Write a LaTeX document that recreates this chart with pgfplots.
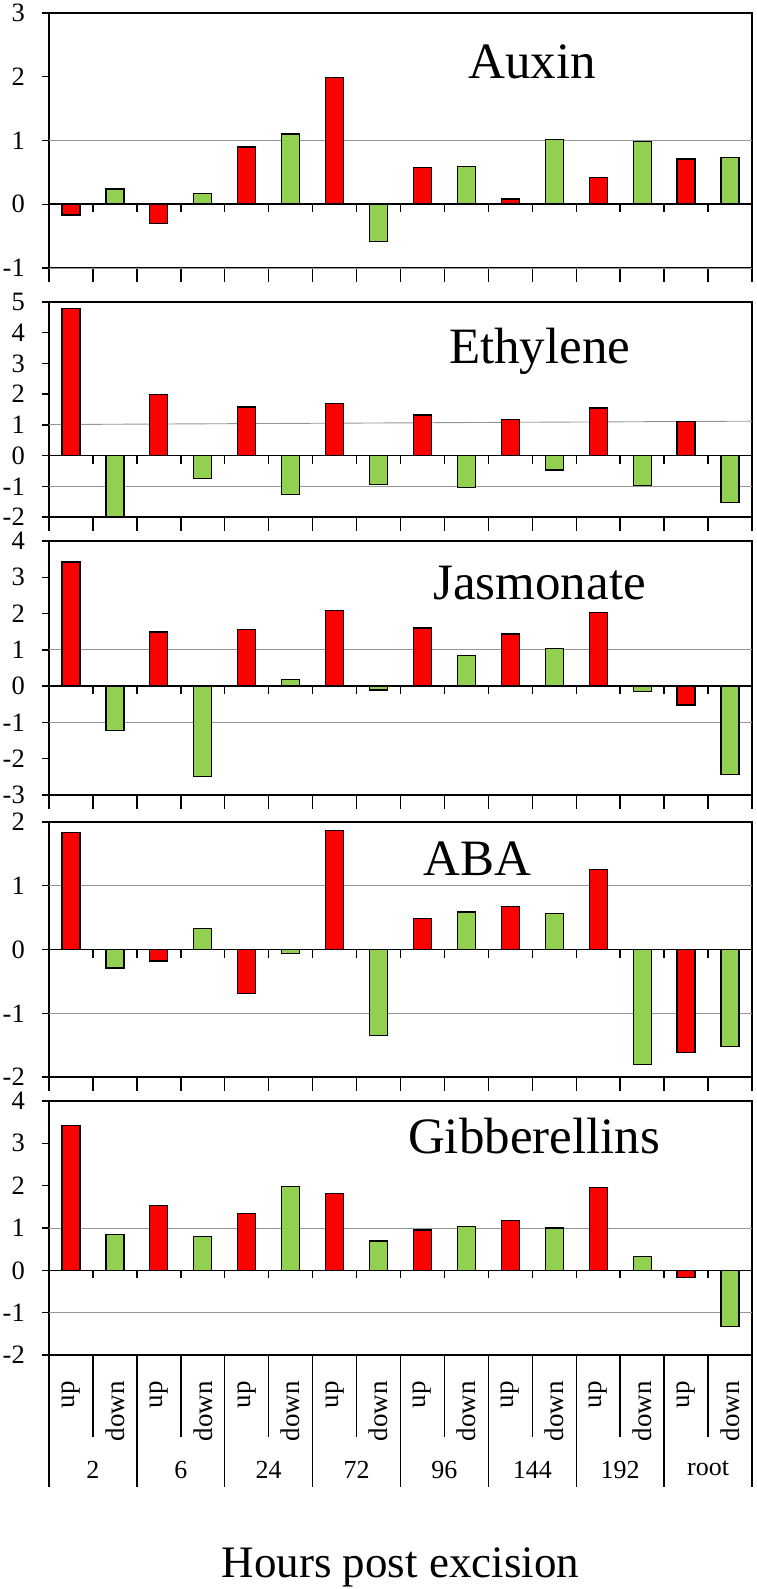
\documentclass[border=0pt]{standalone}
\usepackage{fontspec}
\setmainfont{Liberation Serif}
\usepackage{pgfplots}
\pgfplotsset{compat=1.18}
\definecolor{upred}{RGB}{255,0,0}
\definecolor{dngreen}{RGB}{146,208,80}
\definecolor{gridgray}{RGB}{150,150,150}
\tikzset{ttl/.style={anchor=base, font=\fontsize{51}{51}\selectfont}}
\pgfplotsset{
  panel/.style={
    scale only axis, width=703pt, xmin=-0.5, xmax=15.5,
    axis line style={line width=1.6pt},
    tick align=outside, ytick pos=left, xtick pos=bottom,
    major tick length=7pt,
    tick style={black, line width=1.4pt},
    xtick={-0.5,0.5,...,15.5}, xticklabels={},
    xtick style={/pgfplots/major tick length=14pt},
    ytick distance=1,
    yticklabel style={font=\fontsize{26.5}{26.5}\selectfont, inner sep=0pt, anchor=east, xshift=-17pt},
    /pgf/number format/assume math mode=true,
    extra y ticks={-1,1}, extra y tick labels={},
    extra y tick style={grid=major, major grid style={gridgray, line width=0.9pt}, /pgfplots/major tick length=0pt},
    clip mode=individual,
  },
  upbar/.style={ybar, bar width=18pt, bar shift=0pt, fill=upred, draw=black, line width=1.3pt},
  dnbar/.style={ybar, bar width=18pt, bar shift=0pt, fill=dngreen, draw=black, line width=1.3pt},
}
\newcommand{\zeroline}{%
  \draw[line width=1.6pt] (axis cs:-0.5,0) -- (axis cs:15.5,0);
  \pgfplotsinvokeforeach{0.5,1.5,...,14.5}{\draw[line width=1.4pt] (axis cs:##1,0) -- ++(0pt,-8pt);}%
}
\begin{document}
\begin{tikzpicture}
\path[use as bounding box] (0,0) rectangle (756pt,-1589pt);

% Auxin
\begin{axis}[panel, at={(49pt,-268pt)}, anchor=south west, height=255pt, ymin=-1, ymax=3]
\addplot[upbar] coordinates {(0,-0.17) (2,-0.30) (4,0.90) (6,1.99) (8,0.58) (10,0.08) (12,0.42) (14,0.71)};
\addplot[dnbar] coordinates {(1,0.24) (3,0.17) (5,1.10) (7,-0.58) (9,0.59) (11,1.02) (13,0.98) (15,0.73)};
\zeroline
\node[ttl] at (rel axis cs:0.687,0.745) {Auxin};
\end{axis}

% Ethylene
\begin{axis}[panel, at={(49pt,-517pt)}, anchor=south west, height=215pt, ymin=-2, ymax=5, extra y ticks={-1}]
\addplot[gridgray, line width=0.9pt, forget plot] coordinates {(-0.5,1.01) (15.5,1.12)};
\addplot[upbar] coordinates {(0,4.80) (2,1.99) (4,1.58) (6,1.70) (8,1.32) (10,1.17) (12,1.55) (14,1.11)};
\addplot[dnbar] coordinates {(1,-2.0) (3,-0.74) (5,-1.26) (7,-0.94) (9,-1.03) (11,-0.47) (13,-0.98) (15,-1.52)};
\zeroline
\node[ttl] at (rel axis cs:0.698,0.716) {Ethylene};
\end{axis}

% Jasmonate
\begin{axis}[panel, at={(49pt,-795pt)}, anchor=south west, height=254pt, ymin=-3, ymax=4]
\addplot[upbar] coordinates {(0,3.42) (2,1.49) (4,1.57) (6,2.08) (8,1.60) (10,1.44) (12,2.03) (14,-0.52)};
\addplot[dnbar] coordinates {(1,-1.22) (3,-2.49) (5,0.19) (7,-0.11) (9,0.84) (11,1.03) (13,-0.14) (15,-2.44)};
\zeroline
\node[ttl] at (rel axis cs:0.698,0.768) {Jasmonate};
\end{axis}

% ABA
\begin{axis}[panel, at={(49pt,-1077pt)}, anchor=south west, height=255pt, ymin=-2, ymax=2]
\addplot[upbar] coordinates {(0,1.84) (2,-0.18) (4,-0.69) (6,1.87) (8,0.49) (10,0.68) (12,1.25) (14,-1.62)};
\addplot[dnbar] coordinates {(1,-0.29) (3,0.33) (5,-0.06) (7,-1.35) (9,0.59) (11,0.56) (13,-1.80) (15,-1.52)};
\zeroline
\node[ttl] at (rel axis cs:0.609,0.792) {ABA};
\end{axis}

% Gibberellins
\begin{axis}[panel, at={(49pt,-1355pt)}, anchor=south west, height=254pt, ymin=-2, ymax=4,
  xtick={0,1,...,15},
  xticklabels={\rotatebox{90}{up},\rotatebox{90}{down},\rotatebox{90}{up},\rotatebox{90}{down},\rotatebox{90}{up},\rotatebox{90}{down},\rotatebox{90}{up},\rotatebox{90}{down},\rotatebox{90}{up},\rotatebox{90}{down},\rotatebox{90}{up},\rotatebox{90}{down},\rotatebox{90}{up},\rotatebox{90}{down},\rotatebox{90}{up},\rotatebox{90}{down}},
  xtick style={/pgfplots/major tick length=0pt},
  xticklabel style={font=\fontsize{27}{27}\selectfont, anchor=north, inner sep=0pt, yshift=-19pt}]
\addplot[upbar] coordinates {(0,3.43) (2,1.54) (4,1.34) (6,1.82) (8,0.95) (10,1.17) (12,1.95) (14,-0.17)};
\addplot[dnbar] coordinates {(1,0.84) (3,0.80) (5,1.98) (7,0.69) (9,1.04) (11,1.00) (13,0.32) (15,-1.32)};
\zeroline
\node[ttl] at (rel axis cs:0.690,0.795) {Gibberellins};
\pgfplotsinvokeforeach{0.5,2.5,...,14.5}{\draw[line width=1.4pt] (axis cs:#1,-2) -- ++(0pt,-82pt);}
\pgfplotsinvokeforeach{-0.5,1.5,...,15.5}{\draw[line width=1.4pt] (axis cs:#1,-2) -- ++(0pt,-132pt);}
\node[anchor=north, inner sep=0pt, font=\fontsize{26}{26}\selectfont] at (axis cs:0.5,-2) [yshift=-106pt] {2};
\node[anchor=north, inner sep=0pt, font=\fontsize{26}{26}\selectfont] at (axis cs:2.5,-2) [yshift=-106pt] {6};
\node[anchor=north, inner sep=0pt, font=\fontsize{26}{26}\selectfont] at (axis cs:4.5,-2) [yshift=-106pt] {24};
\node[anchor=north, inner sep=0pt, font=\fontsize{26}{26}\selectfont] at (axis cs:6.5,-2) [yshift=-106pt] {72};
\node[anchor=north, inner sep=0pt, font=\fontsize{26}{26}\selectfont] at (axis cs:8.5,-2) [yshift=-106pt] {96};
\node[anchor=north, inner sep=0pt, font=\fontsize{26}{26}\selectfont] at (axis cs:10.5,-2) [yshift=-106pt] {144};
\node[anchor=north, inner sep=0pt, font=\fontsize{26}{26}\selectfont] at (axis cs:12.5,-2) [yshift=-106pt] {192};
\node[anchor=north, inner sep=0pt, font=\fontsize{26}{26}\selectfont] at (axis cs:14.5,-2) [yshift=-106pt] {root};
\node[anchor=base, font=\fontsize{45}{45}\selectfont] at (rel axis cs:0.5,0) [yshift=-222pt] {Hours post excision};
\end{axis}
\end{tikzpicture}
\end{document}
